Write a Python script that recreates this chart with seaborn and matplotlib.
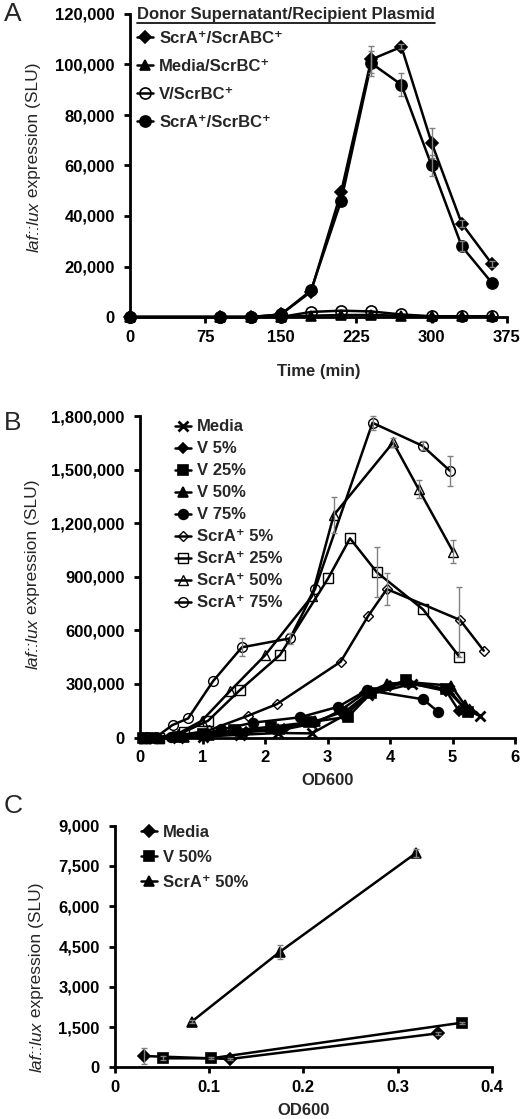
import pandas as pd
import seaborn as sns
import matplotlib.pyplot as plt
from matplotlib.ticker import FuncFormatter, MultipleLocator

# ==========================================
# DATA
# ==========================================

# Panel A: laf::lux expression over time
A_TIME = [0, 90, 120, 150, 180, 210, 240, 270, 300, 330, 360]
A_SCRA_SCRABC = [0, 0, 0, 1000, 10000, 49500, 102000, 107000, 69000, 37000, 21000]
A_MEDIA_SCRBC = [0, 0, 0, 0, 500, 800, 800, 500, 200, 200, 200]
A_V_SCRBC = [0, 0, 0, 0, 2000, 2500, 2200, 1000, 300, 300, 300]
A_SCRA_SCRBC = [0, 0, 0, 1000, 10500, 46000, 100500, 92000, 60000, 28000, 13500]
A_ERR_SCRA_SCRABC = [0, 0, 0, 0, 0, 0, 5500, 1000, 6000, 1500, 1000]
A_ERR_SCRA_SCRBC = [0, 0, 0, 0, 0, 0, 5000, 4500, 4000, 2000, 0]
A_LABELS = ["ScrA⁺/ScrABC⁺", "Media/ScrBC⁺", "V/ScrBC⁺", "ScrA⁺/ScrBC⁺"]

# Panel B: expression vs OD600
B_MEDIA_X = [0.1, 0.2, 0.6, 1.0, 1.6, 2.2, 2.75, 3.3, 3.65, 4.35, 4.95, 5.2, 5.44]
B_MEDIA_Y = [0, 0, 0, 5000, 15000, 25000, 23000, 130000, 240000, 300000, 265000, 160000, 120000]
B_V5_X = [0.1, 0.25, 0.7, 1.1, 1.7, 2.3, 2.8, 3.2, 3.6, 4.0, 4.3, 4.9, 5.1, 5.3]
B_V5_Y = [0, 0, 5000, 15000, 30000, 45000, 80000, 150000, 250000, 290000, 305000, 260000, 150000, 140000]
B_V25_X = [0.05, 0.2, 0.6, 1.0, 1.5, 2.1, 2.7, 3.33, 3.7, 4.25, 4.9, 5.25]
B_V25_Y = [0, 0, 5000, 20000, 40000, 60000, 85000, 116000, 250000, 320000, 270000, 145000]
B_V50_X = [0.1, 0.3, 0.7, 1.1, 1.6, 2.2, 2.8, 3.3, 3.7, 3.95, 4.3, 4.98, 5.2]
B_V50_Y = [0, 0, 5000, 15000, 35000, 50000, 90000, 150000, 260000, 300000, 310000, 290000, 180000]
B_V75_X = [0.1, 0.5, 1.0, 1.3, 1.81, 2.56, 3.17, 3.63, 4.53, 4.77]
B_V75_Y = [0, 5000, 20000, 45000, 83000, 113000, 172000, 265000, 214000, 144000]
B_S5_X = [0.1, 0.3, 0.6, 1.1, 1.73, 2.19, 3.21, 3.65, 3.95, 5.12, 5.5]
B_S5_Y = [0, 0, 10000, 40000, 122000, 187000, 424000, 680000, 831000, 658000, 486000]
B_S25_X = [0.1, 0.3, 0.7, 1.09, 1.6, 2.24, 3.01, 3.36, 3.79, 4.53, 5.11]
B_S25_Y = [0, 0, 30000, 94000, 266000, 462000, 891000, 1115000, 925000, 717000, 452000]
B_S50_X = [0.1, 0.3, 0.6, 0.99, 1.44, 2.0, 2.75, 3.1, 4.05, 4.46, 5.01]
B_S50_Y = [0, 0, 20000, 94000, 260000, 460000, 790000, 1245000, 1652000, 1389000, 1040000]
B_S75_X = [0.1, 0.25, 0.52, 0.77, 1.17, 1.63, 2.4, 2.8, 3.72, 4.52, 4.96]
B_S75_Y = [0, 0, 70000, 107000, 316000, 505000, 555000, 831000, 1762000, 1633000, 1493000]
B_ERR_S5 = [0, 0, 0, 0, 0, 0, 0, 0, 90000, 0, 0]
B_ERR_S25 = [0, 0, 0, 0, 0, 0, 0, 0, 140000, 0, 0]
B_ERR_S25_UP = [0, 0, 0, 0, 0, 0, 0, 0, 140000, 0, 390000]
B_ERR_S50 = [0, 0, 0, 0, 0, 0, 0, 100000, 25000, 50000, 65000]
B_ERR_S75 = [0, 0, 0, 0, 0, 50000, 30000, 0, 40000, 25000, 85000]
B_LABELS = ["Media", "V 5%", "V 25%", "V 50%", "V 75%",
            "ScrA⁺ 5%", "ScrA⁺ 25%", "ScrA⁺ 50%", "ScrA⁺ 75%"]

# Panel C: early OD600 points
C_MEDIA_X = [0.031, 0.122, 0.343]
C_MEDIA_Y = [420, 310, 1265]
C_MEDIA_ERR = [300, 50, 50]
C_V50_X = [0.051, 0.102, 0.368]
C_V50_Y = [335, 335, 1660]
C_V50_ERR = [80, 40, 40]
C_S50_X = [0.0814, 0.175, 0.32]
C_S50_Y = [1700, 4300, 7990]
C_S50_ERR = [60, 250, 150]
C_LABELS = ["Media", "V 50%", "ScrA⁺ 50%"]

# ==========================================
# STYLE
# ==========================================

sns.set_theme(style="ticks")
plt.rcParams['font.family'] = ['Liberation Sans', 'DejaVu Sans']
plt.rcParams['font.weight'] = 'bold'

TICK_SIZE = 12
LEG_SIZE = 12
YLAB_SIZE = 12.5
ERR_COLOR = "#808080"


def draw_series(ax, x, y, label, marker, filled, ms=6.5, mew=1.2):
    df = pd.DataFrame({"x": x, "y": y})
    sns.lineplot(data=df, x="x", y="y", ax=ax, color="black", linewidth=1.8,
                 marker=marker, markersize=ms, markeredgecolor="black",
                 markerfacecolor="black" if filled else "none",
                 markeredgewidth=mew, label=label, clip_on=False,
                 estimator=None, sort=False)


def draw_err(ax, x, y, lo, hi=None):
    if hi is None:
        hi = lo
    pts = [(a, b, l, h) for a, b, l, h in zip(x, y, lo, hi) if l or h]
    if not pts:
        return
    xs, ys, ls, hs = zip(*pts)
    ax.errorbar(xs, ys, yerr=[ls, hs], fmt="none", ecolor=ERR_COLOR,
                elinewidth=1, capsize=2, capthick=1, zorder=5, clip_on=False)


def style_axis(ax, xlim, ylim, xstep, ystep, xfmt, xlabel, labelpad=6):
    ax.set_xlim(xlim)
    ax.set_ylim(ylim)
    ax.xaxis.set_major_locator(MultipleLocator(xstep))
    ax.yaxis.set_major_locator(MultipleLocator(ystep))
    ax.xaxis.set_major_formatter(FuncFormatter(xfmt))
    ax.yaxis.set_major_formatter(FuncFormatter(lambda v, p: f"{int(round(v)):,}"))
    sns.despine(ax=ax)
    for s in ["left", "bottom"]:
        ax.spines[s].set_linewidth(2)
        ax.spines[s].set_color("black")
    ax.tick_params(width=2, length=4, labelsize=TICK_SIZE, direction="out",
                   colors="black")
    ax.tick_params(axis="y", pad=7)
    ax.tick_params(axis="x", pad=5)
    ax.set_xlabel(xlabel, fontsize=TICK_SIZE, fontweight="bold", labelpad=labelpad)
    ax.set_ylabel("")


W, H = 524, 1119
fig = plt.figure(figsize=(W / 100, H / 100), dpi=100)

axA = fig.add_axes([130 / W, 1 - 317 / H, (507 - 130) / W, (317 - 14) / H])
axB = fig.add_axes([140 / W, 1 - 737.5 / H, (515 - 140) / W, (737.5 - 416) / H])
axC = fig.add_axes([115 / W, 1 - 1067.3 / H, (491.7 - 115) / W, (1067.3 - 825.7) / H])

# ---------------- Panel A ----------------
draw_series(axA, A_TIME, A_SCRA_SCRABC, A_LABELS[0], "D", True, ms=6)
draw_series(axA, A_TIME, A_MEDIA_SCRBC, A_LABELS[1], "^", True, ms=7)
draw_series(axA, A_TIME, A_V_SCRBC, A_LABELS[2], "o", False, ms=8)
draw_series(axA, A_TIME, A_SCRA_SCRBC, A_LABELS[3], "o", True, ms=8)
draw_err(axA, A_TIME, A_SCRA_SCRABC, A_ERR_SCRA_SCRABC)
draw_err(axA, A_TIME, A_SCRA_SCRBC, A_ERR_SCRA_SCRBC)
style_axis(axA, (0, 375), (0, 120000), 75, 20000, lambda v, p: f"{int(v)}",
           "Time (min)", labelpad=14)

title = axA.text(0.018, 1.0, "Donor Supernatant/Recipient Plasmid", transform=axA.transAxes,
                 ha="left", va="center", fontsize=LEG_SIZE, fontweight="bold")
axA.legend(loc="upper left", bbox_to_anchor=(0.0, 0.965), frameon=False,
           prop={"size": LEG_SIZE, "weight": "bold"}, handlelength=1.0,
           handletextpad=0.35, labelspacing=0.78, borderaxespad=0)

# ---------------- Panel B ----------------
draw_series(axB, B_MEDIA_X, B_MEDIA_Y, B_LABELS[0], "x", True, ms=7, mew=2)
draw_series(axB, B_V5_X, B_V5_Y, B_LABELS[1], "D", True, ms=5.5)
draw_series(axB, B_V25_X, B_V25_Y, B_LABELS[2], "s", True, ms=6.5)
draw_series(axB, B_V50_X, B_V50_Y, B_LABELS[3], "^", True, ms=7)
draw_series(axB, B_V75_X, B_V75_Y, B_LABELS[4], "o", True, ms=7)
draw_series(axB, B_S5_X, B_S5_Y, B_LABELS[5], "D", False, ms=5, mew=1)
draw_series(axB, B_S25_X, B_S25_Y, B_LABELS[6], "s", False, ms=7, mew=1)
draw_series(axB, B_S50_X, B_S50_Y, B_LABELS[7], "^", False, ms=7, mew=1)
draw_series(axB, B_S75_X, B_S75_Y, B_LABELS[8], "o", False, ms=7, mew=1)
draw_err(axB, B_S5_X, B_S5_Y, B_ERR_S5)
draw_err(axB, B_S25_X, B_S25_Y, B_ERR_S25, B_ERR_S25_UP)
draw_err(axB, B_S50_X, B_S50_Y, B_ERR_S50)
draw_err(axB, B_S75_X, B_S75_Y, B_ERR_S75)
style_axis(axB, (0, 6), (0, 1800000), 1, 300000, lambda v, p: f"{int(v)}", "OD600")
axB.legend(loc="upper left", bbox_to_anchor=(0.075, 1.01), frameon=False,
           prop={"size": LEG_SIZE, "weight": "bold"}, handlelength=1.0,
           handletextpad=0.35, labelspacing=0.42, borderaxespad=0)

# ---------------- Panel C ----------------
draw_series(axC, C_MEDIA_X, C_MEDIA_Y, C_LABELS[0], "D", True, ms=6)
draw_series(axC, C_V50_X, C_V50_Y, C_LABELS[1], "s", True, ms=7)
draw_series(axC, C_S50_X, C_S50_Y, C_LABELS[2], "^", True, ms=7.5)
draw_err(axC, C_MEDIA_X, C_MEDIA_Y, C_MEDIA_ERR)
draw_err(axC, C_V50_X, C_V50_Y, C_V50_ERR)
draw_err(axC, C_S50_X, C_S50_Y, C_S50_ERR)
style_axis(axC, (0, 0.4), (0, 9000), 0.1, 1500, lambda v, p: f"{v:g}", "OD600")
axC.legend(loc="upper left", bbox_to_anchor=(0.05, 1.03), frameon=False,
           prop={"size": LEG_SIZE, "weight": "bold"}, handlelength=1.0,
           handletextpad=0.35, labelspacing=0.6, borderaxespad=0)

# panel letters
for letter, ypix in [("A", 14), ("B", 423), ("C", 806)]:
    fig.text(4 / W, 1 - ypix / H, letter, fontsize=19, fontweight="normal",
             ha="left", va="center")

# y labels: italic gene name + regular remainder
fig.canvas.draw()
renderer = fig.canvas.get_renderer()
for xpix, ybot in [(34, 252), (33, 669), (37, 1072)]:
    t1 = fig.text(xpix / W, 1 - ybot / H, "laf::lux", rotation=90, ha="center",
                  va="bottom", fontsize=YLAB_SIZE, fontweight="normal", style="italic")
    fig.canvas.draw()
    bb = t1.get_window_extent(renderer).transformed(fig.transFigure.inverted())
    fig.text(xpix / W, bb.y1, " expression (SLU)", rotation=90, ha="center",
             va="bottom", fontsize=YLAB_SIZE, fontweight="normal")

# underline for panel A legend title
fig.canvas.draw()
tb = title.get_window_extent(renderer).transformed(axA.transAxes.inverted())
axA.plot([tb.x0, tb.x1], [tb.y0 - 0.005, tb.y0 - 0.005], color="black", lw=1.2,
         transform=axA.transAxes, clip_on=False)

fig.savefig("out.png", dpi=100)
